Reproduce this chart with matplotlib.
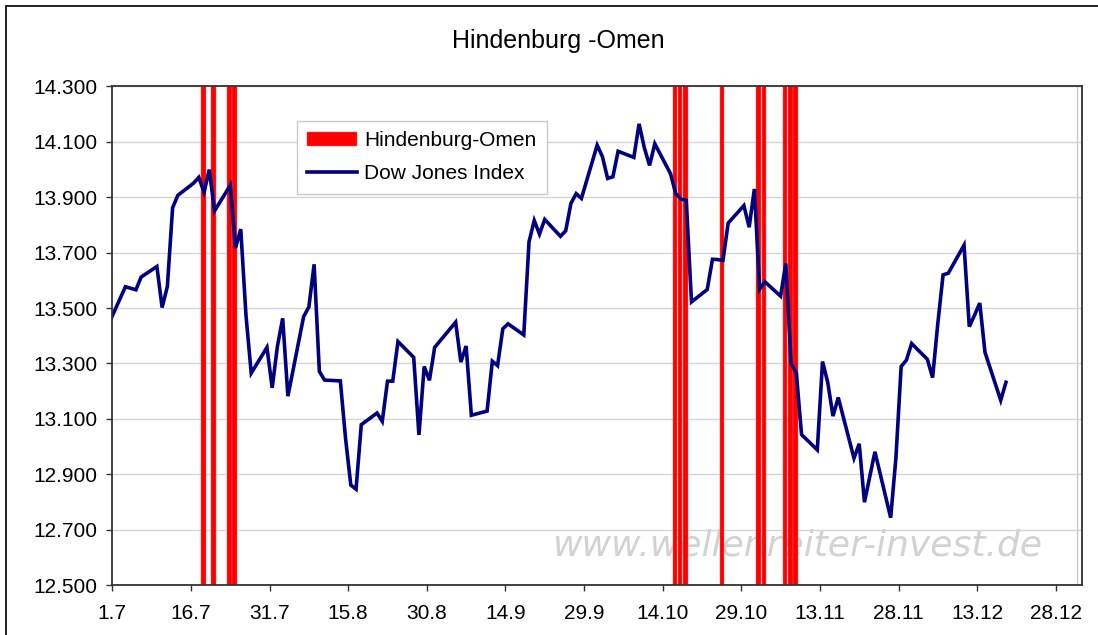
import matplotlib
matplotlib.use("Agg")
import matplotlib.pyplot as plt
import pandas as pd
from matplotlib.patches import Rectangle
from matplotlib.ticker import FuncFormatter

plt.rcParams["font.family"] = ["Liberation Sans", "DejaVu Sans"]

TITLE = "Hindenburg -Omen"
WATERMARK = "www.wellenreiter-invest.de"
OMEN_LABEL = "Hindenburg-Omen"
DOW_LABEL = "Dow Jones Index"

# Dow Jones daily closes (first point lies left of the axis and is clipped)
dow_dates = [
    "2007-06-29",
    "2007-07-02", "2007-07-03", "2007-07-05", "2007-07-06", "2007-07-09", "2007-07-10",
    "2007-07-11", "2007-07-12", "2007-07-13", "2007-07-16", "2007-07-17", "2007-07-18",
    "2007-07-19", "2007-07-20", "2007-07-23", "2007-07-24", "2007-07-25", "2007-07-26",
    "2007-07-27", "2007-07-30", "2007-07-31",
    "2007-08-01", "2007-08-02", "2007-08-03", "2007-08-06", "2007-08-07", "2007-08-08",
    "2007-08-09", "2007-08-10", "2007-08-13", "2007-08-14", "2007-08-15", "2007-08-16",
    "2007-08-17", "2007-08-20", "2007-08-21", "2007-08-22", "2007-08-23", "2007-08-24",
    "2007-08-27", "2007-08-28", "2007-08-29", "2007-08-30", "2007-08-31",
    "2007-09-04", "2007-09-05", "2007-09-06", "2007-09-07", "2007-09-10", "2007-09-11",
    "2007-09-12", "2007-09-13", "2007-09-14", "2007-09-17", "2007-09-18", "2007-09-19",
    "2007-09-20", "2007-09-21", "2007-09-24", "2007-09-25", "2007-09-26", "2007-09-27",
    "2007-09-28",
    "2007-10-01", "2007-10-02", "2007-10-03", "2007-10-04", "2007-10-05", "2007-10-08",
    "2007-10-09", "2007-10-10", "2007-10-11", "2007-10-12", "2007-10-15", "2007-10-16",
    "2007-10-17", "2007-10-18", "2007-10-19", "2007-10-22", "2007-10-23", "2007-10-24",
    "2007-10-25", "2007-10-26", "2007-10-29", "2007-10-30", "2007-10-31",
    "2007-11-01", "2007-11-02", "2007-11-05", "2007-11-06", "2007-11-07", "2007-11-08",
    "2007-11-09", "2007-11-12", "2007-11-13", "2007-11-14", "2007-11-15", "2007-11-16",
    "2007-11-19", "2007-11-20", "2007-11-21", "2007-11-23", "2007-11-26", "2007-11-27",
    "2007-11-28", "2007-11-29", "2007-11-30",
    "2007-12-03", "2007-12-04", "2007-12-05", "2007-12-06", "2007-12-07", "2007-12-10",
    "2007-12-11", "2007-12-12", "2007-12-13", "2007-12-14", "2007-12-17", "2007-12-18",
]
dow_close = [
    13409,
    13535, 13577, 13566, 13612, 13650, 13502,
    13578, 13862, 13907, 13951, 13972, 13918,
    14000, 13851, 13943, 13717, 13785, 13474,
    13265, 13358, 13212,
    13362, 13463, 13182, 13469, 13504, 13658,
    13271, 13240, 13237, 13029, 12861, 12846,
    13079, 13121, 13091, 13236, 13236, 13379,
    13322, 13042, 13289, 13239, 13358,
    13449, 13305, 13363, 13113, 13128, 13308,
    13292, 13425, 13443, 13403, 13739, 13816,
    13767, 13820, 13759, 13779, 13878, 13913,
    13896,
    14088, 14047, 13968, 13974, 14066, 14044,
    14165, 14079, 14015, 14093, 13985, 13913,
    13893, 13889, 13522, 13567, 13676, 13675,
    13672, 13807, 13870, 13792, 13930,
    13568, 13595, 13543, 13661, 13300, 13266,
    13043, 12988, 13307, 13231, 13110, 13177,
    12958, 13010, 12799, 12981, 12743, 12958,
    13289, 13312, 13372,
    13315, 13249, 13445, 13620, 13626, 13727,
    13433, 13474, 13518, 13340, 13167, 13232,
]

# Hindenburg-Omen signal days (bars reach the top of the chart)
omen_dates = [
    "2007-07-18", "2007-07-20", "2007-07-23", "2007-07-24",
    "2007-10-16", "2007-10-17", "2007-10-18", "2007-10-25",
    "2007-11-01", "2007-11-02", "2007-11-06", "2007-11-07", "2007-11-08",
]
omen_level = [14300, 14300, 14300, 14300, 14300, 14300, 14300, 14300,
              14300, 14300, 14300, 14300, 14300]

x_tick_dates = ["2007-07-01", "2007-07-16", "2007-07-31", "2007-08-15", "2007-08-30",
                "2007-09-14", "2007-09-29", "2007-10-14", "2007-10-29", "2007-11-13",
                "2007-11-28", "2007-12-13", "2007-12-28"]
x_tick_labels = ["1.7", "16.7", "31.7", "15.8", "30.8", "14.9", "29.9",
                 "14.10", "29.10", "13.11", "28.11", "13.12", "28.12"]
y_ticks = [12500, 12700, 12900, 13100, 13300, 13500, 13700, 13900, 14100, 14300]


def main() -> None:
    fig = plt.figure(figsize=(10.98, 6.35), dpi=100)
    ax = fig.add_axes([0.1023, 0.0787, 0.8831, 0.7851])

    # Excel date axis: points sit in the middle of their day slot
    line_x = pd.to_datetime(dow_dates) + pd.Timedelta(hours=12)
    bar_x = pd.to_datetime(omen_dates) + pd.Timedelta(hours=8)

    bars = ax.bar(bar_x, omen_level, width=0.9, color="#ff0000", edgecolor="#ff6060",
                  linewidth=0.3, label=OMEN_LABEL, zorder=1)
    (line,) = ax.plot(line_x, dow_close, color="#000080", linewidth=2.6,
                      solid_joinstyle="miter", label=DOW_LABEL, zorder=2)

    ax.text(0.4545, 0.06, WATERMARK, transform=ax.transAxes, fontsize=26,
            style="italic", family="DejaVu Sans", color="#d2d2d2", zorder=0.8)

    ax.set_xlim(pd.Timestamp("2008-01-02") - pd.Timedelta(days=185), pd.Timestamp("2008-01-02"))
    ax.set_ylim(12500, 14300)
    ax.axvline(pd.Timestamp("2008-01-01"), color="#c8c8c8", linewidth=1, zorder=0.5)

    ax.set_xticks(pd.to_datetime(x_tick_dates))
    ax.set_xticklabels(x_tick_labels)
    ax.set_yticks(y_ticks)
    ax.yaxis.set_major_formatter(FuncFormatter(lambda v, _: f"{v:,.0f}".replace(",", ".")))
    ax.tick_params(axis="both", labelsize=15, length=4, width=1, color="#333333")
    ax.tick_params(axis="x", pad=9.5)
    ax.tick_params(axis="y", pad=7)

    ax.grid(axis="y", color="#d4d4d4", linewidth=1)
    ax.set_axisbelow(True)
    for spine in ax.spines.values():
        spine.set_color("#333333")
        spine.set_linewidth(1.3)

    leg = ax.legend([bars, line], [OMEN_LABEL, DOW_LABEL],
                    loc="upper left", bbox_to_anchor=(0.190, 0.931), borderaxespad=0,
                    fontsize=15, handlelength=2.4, handleheight=0.64, handletextpad=0.34,
                    labelspacing=0.68, borderpad=0.5, fancybox=False, framealpha=1)
    leg.get_frame().set_edgecolor("#c8c8c8")
    leg.get_frame().set_linewidth(1)

    fig.text(0.5087, 0.924, TITLE, ha="center", va="baseline", fontsize=18)

    # outer chart frame (cut off at the right and bottom edge of the picture)
    fig.add_artist(Rectangle((6 / 1098, -0.1), 1.2, 1.1 - 6.5 / 635, transform=fig.transFigure,
                             fill=False, edgecolor="#222222", linewidth=1.4))

    fig.savefig("out.png", dpi=100)
    plt.close(fig)


if __name__ == "__main__":
    main()
